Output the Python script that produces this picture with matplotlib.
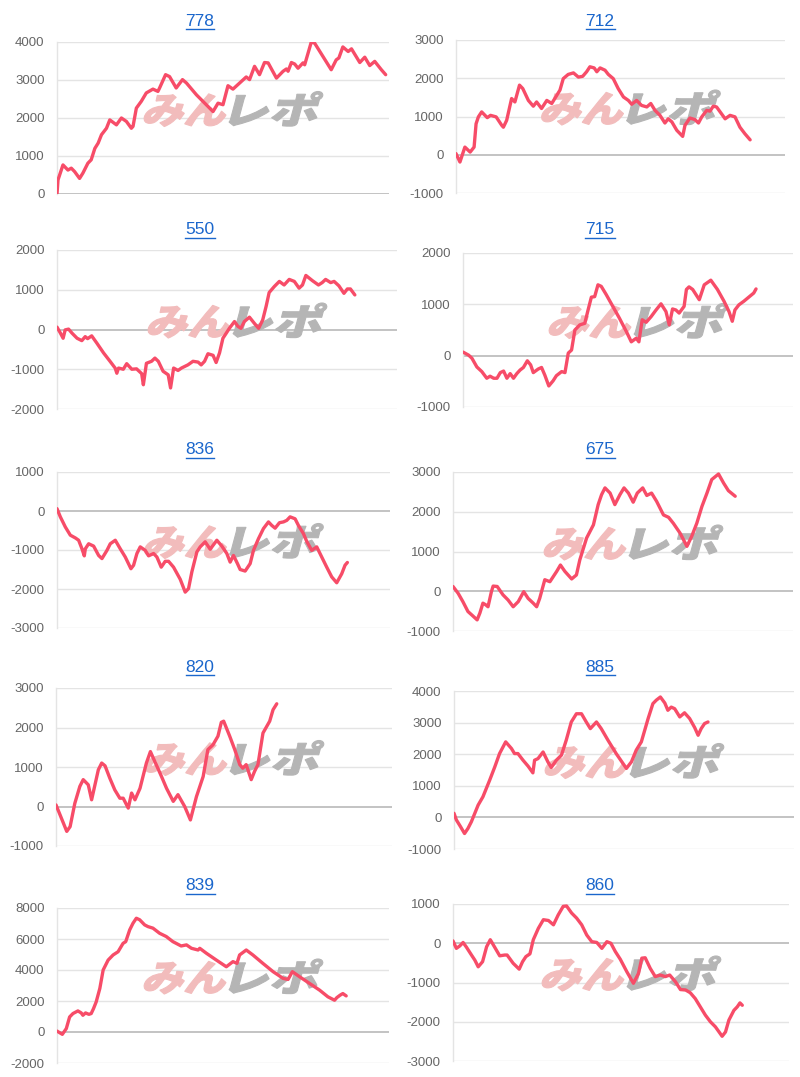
import matplotlib
matplotlib.use("Agg")
import matplotlib.pyplot as plt
from matplotlib.textpath import TextPath
from matplotlib.patches import PathPatch
from matplotlib.font_manager import FontProperties
from matplotlib.transforms import Affine2D
from matplotlib.lines import Line2D

# ---------------- data (x = progress of the day, 0..1000 scale; y = difference in medals) -------------
titles = ["778", "712", "550", "715", "836", "675", "820", "885", "839", "860"]

x_778 = [0, 3, 18, 33, 43, 53, 68, 78, 93, 103, 114, 124, 134, 149, 159, 179, 194, 209, 224, 229,
         239, 254, 269, 289, 304, 309, 327, 339, 359, 378, 390, 420, 470, 485, 500, 515, 530, 570, 580, 595,
         610, 625, 636, 661, 681, 691, 696, 706, 716, 726, 741, 746, 766, 776, 801, 826, 841, 849, 861, 877,
         887, 912, 927, 942, 957, 977, 990]
y_778 = [0, 370, 765, 630, 680, 590, 410, 550, 810, 900, 1200, 1340, 1560, 1730, 1950, 1820, 2000, 1910, 1730, 1780,
         2260, 2440, 2660, 2760, 2700, 2790, 3140, 3090, 2790, 3010, 2920, 2610, 2170, 2390, 2350, 2850, 2760, 3080, 3010, 3360,
         3140, 3460, 3450, 3050, 3230, 3290, 3230, 3460, 3420, 3310, 3450, 3400, 4000, 3970, 3620, 3270, 3530, 3580, 3870, 3750,
         3820, 3460, 3600, 3380, 3490, 3270, 3140]

x_712 = [0, 12, 27, 43, 55, 61, 68, 78, 95, 105, 122, 139, 144, 154, 169, 179, 193, 203, 220, 235,
         245, 260, 276, 291, 306, 316, 326, 341, 357, 372, 385, 397, 407, 420, 428, 438, 453, 463, 478, 493,
         509, 524, 534, 549, 564, 580, 592, 605, 620, 635, 645, 656, 671, 689, 696, 711, 726, 737, 747, 762,
         772, 782, 792, 818, 833, 848, 863, 878, 894]
y_712 = [30, -190, 200, 70, 200, 810, 990, 1120, 970, 1030, 990, 770, 720, 900, 1470, 1380, 1820, 1730, 1420, 1270,
         1380, 1210, 1420, 1340, 1550, 1690, 1990, 2100, 2140, 2030, 2050, 2170, 2300, 2270, 2170, 2270, 2210, 2100, 1990, 1730,
         1510, 1420, 1320, 1420, 1290, 1250, 1340, 1160, 1030, 830, 940, 860, 640, 480, 770, 960, 920, 830, 990, 1160,
         1140, 1270, 1250, 940, 1030, 990, 720, 550, 390]

x_550 = [0, 10, 18, 24, 34, 44, 59, 73, 83, 90, 102, 117, 137, 156, 171, 176, 181, 195, 205, 220,
         234, 249, 254, 263, 278, 288, 298, 312, 327, 334, 343, 356, 366, 385, 400, 415, 424, 434, 444, 459,
         468, 478, 488, 498, 507, 522, 532, 541, 551, 566, 580, 593, 605, 615, 624, 639, 654, 668, 683, 698,
         712, 722, 732, 751, 769, 780, 790, 805, 815, 829, 844, 854, 863, 876]
y_550 = [60, -90, -220, -10, 10, -90, -220, -280, -180, -230, -160, -340, -590, -800, -970, -1100, -970, -1000, -860, -1000,
         -990, -1110, -1390, -850, -800, -720, -800, -1050, -1140, -1470, -970, -1030, -970, -890, -800, -820, -890, -800, -610, -650,
         -830, -590, -220, -90, 30, 200, 80, 30, 200, 310, 160, 30, 240, 580, 930, 1080, 1210, 1120, 1260, 1210,
         1040, 1120, 1360, 1230, 1120, 1180, 1260, 1180, 1210, 1100, 910, 1020, 1020, 870]

x_715 = [0, 17, 27, 42, 57, 72, 82, 93, 103, 113, 123, 133, 143, 153, 163, 173, 183, 195, 205, 213,
         228, 238, 248, 260, 273, 283, 299, 309, 319, 329, 339, 354, 369, 379, 389, 399, 409, 419, 434, 454,
         474, 495, 510, 525, 533, 543, 555, 570, 585, 600, 615, 625, 635, 645, 655, 670, 677, 685, 696, 716,
         731, 751, 771, 791, 806, 816, 824, 836, 851, 866, 881, 888]
y_715 = [70, 10, -50, -220, -310, -440, -400, -440, -440, -330, -300, -440, -350, -440, -350, -280, -230, -100, -180, -330,
         -260, -230, -380, -590, -490, -390, -310, -330, 50, 110, 500, 600, 630, 890, 1140, 1150, 1380, 1350, 1190, 960,
         730, 470, 270, 340, 270, 700, 650, 760, 890, 1010, 860, 600, 910, 890, 830, 960, 1290, 1340, 1290, 1090,
         1380, 1470, 1290, 1060, 860, 670, 890, 990, 1060, 1140, 1220, 1300]

x_836 = [0, 10, 25, 40, 55, 65, 75, 82, 85, 95, 110, 125, 135, 150, 160, 175, 190, 205, 222, 230,
         240, 250, 265, 275, 290, 300, 313, 325, 335, 350, 370, 385, 395, 405, 420, 430, 445, 460, 480, 495,
         510, 520, 530, 542, 550, 565, 580, 590, 605, 620, 635, 645, 655, 668, 680, 690, 700, 715, 725, 740,
         750, 765, 780, 795, 810, 825, 840, 855, 865, 872]
y_836 = [60, -150, -410, -620, -690, -750, -970, -1150, -970, -840, -900, -1140, -1220, -1010, -840, -750, -970, -1180, -1480, -1390,
         -1090, -920, -1010, -1150, -1090, -1180, -1440, -1290, -1290, -1440, -1750, -2080, -1990, -1560, -1050, -920, -790, -980, -750, -900,
         -1090, -1310, -1140, -1350, -1500, -1540, -1350, -1010, -710, -450, -280, -370, -440, -300, -280, -240, -150, -200, -370, -580,
         -780, -1010, -920, -1180, -1440, -1690, -1840, -1610, -1390, -1320]

x_675 = [0, 15, 29, 44, 57, 71, 79, 88, 96, 103, 113, 118, 130, 147, 162, 177, 192, 208, 221, 236,
         246, 255, 270, 285, 295, 305, 316, 329, 349, 363, 373, 393, 413, 427, 437, 447, 462, 476, 491, 503,
         516, 530, 542, 558, 570, 584, 599, 619, 634, 648, 668, 688, 702, 717, 732, 747, 761, 781, 796, 810,
         830]
y_675 = [120, -50, -260, -510, -610, -720, -550, -300, -340, -390, -10, 130, 120, -90, -220, -390, -260, -10, -180, -300,
         -390, -180, 290, 240, 370, 500, 660, 500, 310, 410, 790, 1340, 1670, 2180, 2430, 2600, 2470, 2180, 2430, 2600,
         2470, 2240, 2470, 2600, 2410, 2470, 2260, 1920, 1860, 1710, 1460, 1130, 1380, 1710, 2130, 2470, 2810, 2950, 2720, 2530,
         2390]

x_820 = [0, 12, 32, 42, 56, 71, 81, 96, 106, 116, 126, 136, 146, 160, 175, 190, 200, 215, 225, 235,
         250, 269, 281, 294, 314, 329, 349, 363, 383, 400, 418, 438, 452, 467, 482, 492, 499, 517, 532, 547,
         556, 566, 581, 591, 601, 616, 626, 636, 646, 657]
y_820 = [40, -210, -630, -510, 80, 510, 680, 550, 170, 550, 930, 1100, 1030, 720, 420, 210, 210, -40, 340, 170,
         460, 1100, 1390, 1140, 760, 460, 130, 300, 0, -340, 250, 760, 1440, 1560, 1780, 2130, 2160, 1780, 1440, 1060,
         970, 1060, 680, 890, 1060, 1860, 2010, 2160, 2450, 2600]

x_885 = [0, 7, 19, 31, 41, 51, 71, 85, 105, 120, 134, 152, 169, 178, 188, 203, 218, 232, 237, 247,
         262, 276, 286, 301, 316, 330, 345, 360, 375, 389, 401, 419, 433, 453, 477, 507, 522, 536, 551, 571,
         585, 595, 607, 620, 629, 639, 649, 664, 678, 693, 708, 718, 727, 737, 747]
y_885 = [130, -80, -290, -510, -350, -140, 390, 650, 1180, 1600, 2020, 2390, 2180, 2020, 2020, 1810, 1620, 1410, 1810, 1860,
         2070, 1760, 1580, 1810, 1970, 2440, 3020, 3280, 3280, 3020, 2810, 3020, 2810, 2440, 2020, 1550, 1760, 2130, 2390, 3130,
         3600, 3710, 3810, 3620, 3390, 3490, 3440, 3180, 3310, 3130, 2840, 2600, 2810, 2970, 3020]

x_839 = [0, 16, 28, 38, 48, 63, 73, 78, 86, 96, 103, 110, 118, 129, 139, 154, 169, 184, 199, 207,
         219, 229, 239, 249, 264, 274, 289, 309, 329, 349, 374, 390, 405, 425, 430, 450, 480, 510, 530, 542,
         550, 570, 590, 620, 651, 681, 696, 709, 731, 761, 791, 816, 836, 843, 853, 861, 871]
y_839 = [60, -150, 220, 970, 1190, 1360, 1230, 1080, 1230, 1140, 1190, 1510, 1940, 2810, 4000, 4640, 4970, 5180, 5720, 5830,
         6590, 7020, 7340, 7240, 6910, 6800, 6700, 6370, 6160, 5830, 5550, 5620, 5400, 5290, 5400, 5080, 4640, 4210, 4540, 4430,
         4970, 5290, 4970, 4430, 3890, 3460, 3390, 3890, 3560, 3130, 2700, 2270, 2050, 2220, 2380, 2480, 2330]

x_860 = [0, 10, 20, 30, 40, 55, 65, 75, 88, 100, 111, 124, 139, 154, 161, 179, 197, 207, 217, 229,
         239, 254, 269, 284, 299, 313, 328, 338, 353, 368, 383, 398, 413, 428, 443, 458, 470, 483, 498, 517,
         537, 552, 562, 572, 587, 602, 617, 632, 645, 662, 677, 692, 706, 721, 736, 751, 766, 781, 801, 811,
         821, 836, 846, 854, 861]
y_860 = [60, -130, -70, 20, -100, -300, -430, -600, -470, -90, 90, -100, -320, -300, -300, -510, -660, -470, -340, -270,
         90, 380, 600, 580, 470, 720, 940, 950, 770, 640, 470, 210, 40, 20, -130, 40, 0, -210, -410, -720,
         -1020, -770, -380, -370, -640, -850, -810, -850, -810, -980, -1180, -1190, -1260, -1410, -1620, -1830, -2000, -2130, -2370, -2260,
         -1960, -1710, -1620, -1520, -1580]

y_ranges = [(0, 4000, 1000), (-1000, 3000, 1000), (-2000, 2000, 1000), (-1000, 2000, 1000),
            (-3000, 1000, 1000), (-1000, 3000, 1000), (-1000, 3000, 1000), (-1000, 4000, 1000),
            (-2000, 8000, 2000), (-3000, 1000, 1000)]

series_x = [x_778, x_712, x_550, x_715, x_836, x_675, x_820, x_885, x_839, x_860]
series_y = [y_778, y_712, y_550, y_715, y_836, y_675, y_820, y_885, y_839, y_860]

# ---------------- layout (pixel boxes: left, right, top, bottom) ----------------
W, H = 800, 1077
boxes = [(57, 389, 42, 194), (456, 785, 40, 193),
         (57, 397, 250, 409), (463, 793, 253, 407),
         (57, 390, 472, 628), (453, 793, 472, 631),
         (56, 392, 688, 846), (454, 794, 691, 849),
         (57, 389, 908, 1063), (453, 789, 904, 1061)]
title_y = [21, 21, 230, 230, 450, 450, 667, 667, 886, 886]

LINE_COLOR = "#f74c68"
TITLE_COLOR = "#1a66cc"
TICK_COLOR = "#666666"
GRID_COLOR = "#e4e4e4"
ZERO_COLOR = "#b9b9b9"

fig = plt.figure(figsize=(W / 100, H / 100), dpi=100)
fig.patch.set_facecolor("white")

wm_font = FontProperties(family="Noto Sans CJK JP", weight="black")


def add_watermark(ax, box):
    l, r, t, b = box
    cx = (l + r) / 2 + 4
    cy = H - ((t + b) / 2 - 10)
    size = 40
    p1 = TextPath((0, 0), "みん", size=size, prop=wm_font)
    p2 = TextPath((0, 0), "レポ", size=size, prop=wm_font)
    e1, e2 = p1.get_extents(), p2.get_extents()
    gap = 5
    sx2 = 1.22
    total = e1.width + gap + e2.width * sx2
    sx = cx - total / 2
    hh = max(e1.height, e2.height)
    base = cy - hh / 2 - e1.y0
    t1 = Affine2D().scale(1.05, 0.92).skew_deg(15, 0).translate(sx - e1.x0, base)
    t2 = Affine2D().scale(sx2, 0.92).skew_deg(15, 0).translate(sx + e1.width * 1.05 + gap - e2.x0 * sx2, base)
    for path, tr, col in ((p1, t1, "#f2bcbc"), (p2, t2, "#b5b5b5")):
        patch = PathPatch(path, transform=tr, facecolor=col, edgecolor=col, lw=0.8,
                          zorder=1.5, clip_on=False)
        ax.add_artist(patch)


title_texts = []
for i in range(10):
    l, r, t, b = boxes[i]
    ax = fig.add_axes([l / W, 1 - b / H, (r - l) / W, (b - t) / H])
    ax.set_facecolor("none")
    lo, hi, step = y_ranges[i]
    ax.set_xlim(0, 1000)
    ax.set_ylim(lo, hi)
    ticks = list(range(lo, hi + 1, step))
    ax.set_yticks(ticks)
    ax.set_yticklabels([str(v) for v in ticks])
    ax.set_xticks([])
    for v in ticks:
        ax.axhline(v, color=ZERO_COLOR if v == 0 else GRID_COLOR,
                   lw=1.0 if v != 0 else 1.2, zorder=1)
    for s in ("top", "right", "bottom"):
        ax.spines[s].set_visible(False)
    ax.spines["left"].set_color(GRID_COLOR)
    ax.spines["left"].set_linewidth(1.0)
    ax.tick_params(axis="y", length=0, pad=9, labelsize=9.5, labelcolor=TICK_COLOR)
    for lab in ax.get_yticklabels():
        lab.set_family("Liberation Sans")
    add_watermark(ax, boxes[i])
    ax.plot(series_x[i], series_y[i], color=LINE_COLOR, lw=2.4, zorder=3,
            solid_joinstyle="round", solid_capstyle="round")
    tx = 200 if i % 2 == 0 else 600
    txt = fig.text(tx / W, 1 - title_y[i] / H, titles[i], ha="center", va="center",
                   color=TITLE_COLOR, fontsize=12.5, family="Liberation Sans")
    title_texts.append(txt)

# underline the titles (they are links)
fig.canvas.draw()
renderer = fig.canvas.get_renderer()
for txt in title_texts:
    bb = txt.get_window_extent(renderer)
    y = bb.y0 - 0.5
    fig.add_artist(Line2D([bb.x0 / W, bb.x1 / W], [y / H, y / H],
                          transform=fig.transFigure, color=TITLE_COLOR, lw=1.0))

fig.savefig("out.png", dpi=100, facecolor="white")
